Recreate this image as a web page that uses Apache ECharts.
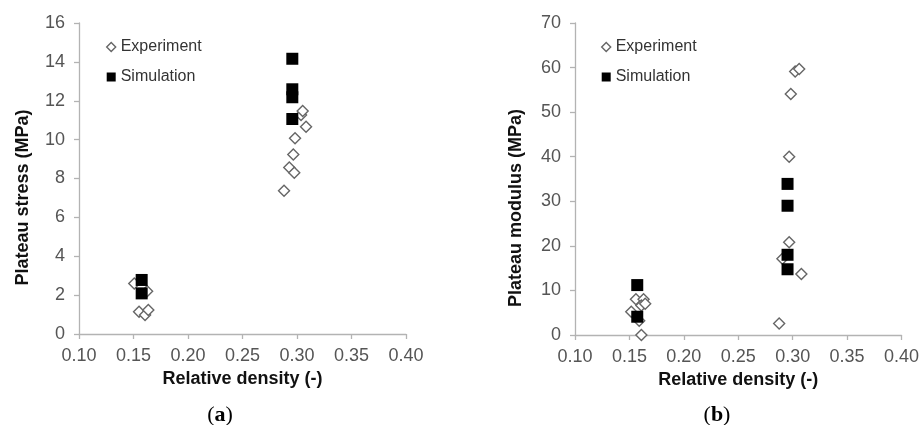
<!DOCTYPE html>
<html>
<head>
<meta charset="UTF-8">
<title>Plateau stress / modulus vs relative density</title>
<script src="https://cdn.jsdelivr.net/npm/echarts@6/dist/echarts.min.js"></script>
<style>
	html, body { margin:0; padding:0; background:#fff; }
	#chart { width:922px; height:425px; }
</style>
</head>
<body>
<div id="chart"></div>
<script>
// (a) plateau stress
var expAX = [0.1507, 0.1551, 0.1606, 0.1625, 0.1636, 0.2881, 0.2929, 0.2975, 0.2966, 0.2982, 0.3083, 0.3037, 0.3052];
var expAY = [2.6, 1.15, 0.98, 2.2, 1.23, 7.37, 8.57, 8.3, 9.24, 10.07, 10.66, 11.27, 11.47];
var simAX = [0.1575, 0.1575, 0.2957, 0.2957, 0.2957, 0.2957];
var simAY = [2.78, 2.09, 14.16, 12.59, 12.18, 11.06];

// (b) plateau modulus
var expBX = [0.1517, 0.156, 0.163, 0.161, 0.1645, 0.159, 0.161, 0.2876, 0.2906, 0.308, 0.2968, 0.2968, 0.2983, 0.3023, 0.306];
var expBY = [5.2, 8.0, 8.0, 6.6, 7.0, 3.2, 0, 2.6, 17.1, 13.7, 20.8, 40.0, 54.05, 59.1, 59.7];
var simBX = [0.1572, 0.1572, 0.2953, 0.2953, 0.2953, 0.2953];
var simBY = [11.2, 4.1, 33.9, 29.0, 18.0, 14.75];

var legendNames = ['Experiment', 'Simulation'];
var panelLabels = ['a', 'b'];

function pairs(xs, ys) {
	return xs.map(function (x, i) { return [x, ys[i]]; });
}

var font = 'Liberation Sans, Arial, sans-serif';
var axisColor = '#b3b3b3';
var labelColor = '#555';

function xAxisOf(idx) {
	return {
		gridIndex: idx, type: 'value', min: 0.1, max: 0.4, interval: 0.05,
		name: 'Relative density (-)', nameLocation: 'middle', nameGap: 36,
		nameTextStyle: { fontFamily: font, fontSize: 18, fontWeight: 'bold', color: '#111' },
		axisLine: { lineStyle: { color: axisColor, width: 1.3 } },
		axisTick: { length: 5, lineStyle: { color: axisColor, width: 1.3 } },
		axisLabel: { margin: 13, fontFamily: font, fontSize: 18, color: labelColor,
			formatter: function (v) { return v.toFixed(2); } },
		splitLine: { show: false }
	};
}

function yAxisOf(idx, max, step, name, gap, pad) {
	return {
		gridIndex: idx, type: 'value', min: 0, max: max, interval: step,
		name: name, nameLocation: 'middle', nameGap: gap, nameRotate: 90,
		nameTextStyle: { fontFamily: font, fontSize: 18, fontWeight: 'bold', color: '#111', padding: [0, pad, 0, 0] },
		axisLine: { show: true, lineStyle: { color: axisColor, width: 1.3 } },
		axisTick: { show: true, length: 5, lineStyle: { color: axisColor, width: 1.3 } },
		axisLabel: { margin: 14, fontFamily: font, fontSize: 18, color: labelColor },
		splitLine: { show: false }
	};
}

var expStyle = { color: '#fff', borderColor: '#666', borderWidth: 1.4, opacity: 1 };
var simStyle = { color: '#000', opacity: 1 };

function legendOf(left) {
	return {
		left: left, top: 39, padding: 0, orient: 'vertical', itemWidth: 9, itemHeight: 9, itemGap: 14,
		textStyle: { fontFamily: font, fontSize: 16, color: '#333' },
		data: [
			{ name: legendNames[0], icon: 'diamond', itemStyle: expStyle },
			{ name: legendNames[1], icon: 'rect', itemStyle: simStyle }
		]
	};
}

function titleOf(letter, centerX) {
	return {
		text: '{p|(}{b|' + letter + '}{p|)}',
		left: centerX, top: 399, textAlign: 'center',
		textStyle: {
			rich: {
				p: { fontFamily: 'Liberation Serif, serif', fontSize: 22, fontWeight: 'normal', color: '#000' },
				b: { fontFamily: 'Liberation Serif, serif', fontSize: 22, fontWeight: 'bold', color: '#000' }
			}
		}
	};
}

var chart = echarts.init(document.getElementById('chart'));
chart.setOption({
	animation: false,
	title: [titleOf(panelLabels[0], 215), titleOf(panelLabels[1], 712)],
	legend: [legendOf(106), legendOf(601)],
	grid: [
		{ left: 79, right: 516, top: 23, bottom: 91 },
		{ left: 575, right: 19, top: 23, bottom: 90 }
	],
	xAxis: [xAxisOf(0), xAxisOf(1)],
	yAxis: [
		yAxisOf(0, 16, 2, 'Plateau stress (MPa)', 47, 38),
		yAxisOf(1, 70, 10, 'Plateau modulus (MPa)', 50, 58)
	],
	series: [
		{ name: legendNames[0], type: 'scatter', xAxisIndex: 0, yAxisIndex: 0, symbol: 'diamond', symbolSize: 11,
			itemStyle: expStyle, data: pairs(expAX, expAY) },
		{ name: legendNames[1], type: 'scatter', xAxisIndex: 0, yAxisIndex: 0, symbol: 'rect', symbolSize: 12,
			itemStyle: simStyle, data: pairs(simAX, simAY) },
		{ name: legendNames[0], type: 'scatter', xAxisIndex: 1, yAxisIndex: 1, symbol: 'diamond', symbolSize: 11,
			itemStyle: expStyle, clip: false, data: pairs(expBX, expBY) },
		{ name: legendNames[1], type: 'scatter', xAxisIndex: 1, yAxisIndex: 1, symbol: 'rect', symbolSize: 12,
			itemStyle: simStyle, data: pairs(simBX, simBY) }
	]
});
</script>
</body>
</html>
